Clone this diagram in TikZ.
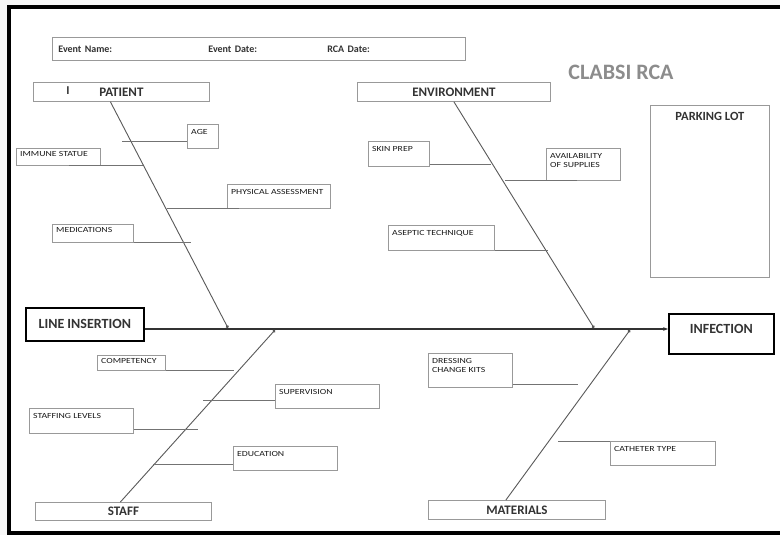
\documentclass[tikz,border=0pt]{standalone}
\usepackage{fontspec}
\setmainfont{Carlito}
\newfontfamily\causefont[FakeStretch=1.25]{Carlito}
\usetikzlibrary{arrows.meta}

\begin{document}
\begin{tikzpicture}[
        x=1pt, y=-1pt,
        every node/.style={text=black!80},
        hdrbox/.style={draw=gray!80, line width=0.8pt, anchor=north west},
        catbox/.style={draw=gray!80, line width=0.8pt, anchor=north west, inner sep=0pt, font=\bfseries\fontsize{13}{14}\selectfont},
        cbox/.style={draw=gray!80, line width=0.8pt, anchor=north west, inner sep=0pt},
        ctext/.style={anchor=north west, inner xsep=4pt, inner ysep=5pt, align=left, text=black!90, font=\causefont\fontsize{7.8}{9}\selectfont},
        mainbox/.style={draw=black, line width=1.6pt, anchor=north west, inner sep=0pt, font=\bfseries\fontsize{14}{15}\selectfont},
        bone/.style={draw=black!65, line width=0.9pt, -{Circle[length=3pt]}},
        twig/.style={draw=black!55, line width=0.7pt},
        spine/.style={draw=black!80, line width=2.4pt, -{Stealth[length=5pt]}}
    ]

    % frame
    \fill[gray!6] (0,0) rectangle (780,535);
    \useasboundingbox (0,0) rectangle (780,535);
    \clip (0,0) rectangle (780,535);
    \draw[line width=4pt, fill=white] (9,7) rectangle (800,533);

    % header and title
    \node[hdrbox, text width=401pt, inner xsep=6pt, minimum height=23pt, align=left, font=\bfseries\fontsize{10}{11}\selectfont] (header) at (52,37) {\makebox[150pt][l]{Event Name:}\makebox[119pt][l]{Event Date:}RCA Date:};
    \node[font=\bfseries\fontsize{22}{24}\selectfont, text=gray!90] (title) at (621,72) {CLABSI RCA};

    % categories
    \node[catbox, minimum width=176pt, minimum height=19pt] (patient) at (33,82) {PATIENT};
    \node[font=\bfseries\fontsize{12}{12}\selectfont] (cursor) at (68,91) {I};
    \node[catbox, minimum width=193pt, minimum height=19pt] (environment) at (357,82) {ENVIRONMENT};
    \node[catbox, minimum width=176pt, minimum height=18pt] (staff) at (35,502) {STAFF};
    \node[catbox, minimum width=177pt, minimum height=19pt] (materials) at (428,500) {MATERIALS};

    % head and tail
    \node[mainbox, minimum width=118pt, minimum height=33pt] (insertion) at (25,307) {LINE INSERTION};
    \node[mainbox, minimum width=105pt, inner ysep=5pt, text height=15pt, text depth=15pt] (infection) at (668,313) {INFECTION};
    \node[cbox, minimum width=119pt, minimum height=172pt, label={[anchor=north, inner sep=0pt, yshift=-7pt, font=\bfseries\fontsize{12.5}{13}\selectfont]north:PARKING LOT}] (parking) at (650,105) {};

    % causes
    \node[cbox, minimum width=31pt, minimum height=24pt, label={[ctext]north west:AGE}] (age) at (187,124) {};
    \node[cbox, minimum width=84pt, minimum height=17pt, label={[ctext, inner ysep=3pt]north west:IMMUNE STATUE}] (immune) at (16,148) {};
    \node[cbox, minimum width=103pt, minimum height=24pt, label={[ctext]north west:PHYSICAL ASSESSMENT}] (physical) at (227,184) {};
    \node[cbox, minimum width=81pt, minimum height=18pt, label={[ctext, inner ysep=3pt]north west:MEDICATIONS}] (medications) at (52,224) {};
    \node[cbox, minimum width=61pt, minimum height=25pt, label={[ctext]north west:SKIN PREP}] (skin) at (368,141) {};
    \node[cbox, minimum width=74pt, minimum height=32pt, label={[ctext]north west:AVAILABILITY\\OF SUPPLIES}] (avail) at (546,148) {};
    \node[cbox, minimum width=106pt, minimum height=25pt, label={[ctext]north west:ASEPTIC TECHNIQUE}] (aseptic) at (388,225) {};
    \node[cbox, minimum width=68pt, minimum height=15pt, label={[ctext, inner ysep=3pt]north west:COMPETENCY}] (competency) at (97,355) {};
    \node[cbox, minimum width=104pt, minimum height=24pt, label={[ctext]north west:SUPERVISION}] (supervision) at (275,384) {};
    \node[cbox, minimum width=104pt, minimum height=25pt, label={[ctext]north west:STAFFING LEVELS}] (staffing) at (29,408) {};
    \node[cbox, minimum width=104pt, minimum height=24pt, label={[ctext]north west:EDUCATION}] (education) at (233,446) {};
    \node[cbox, minimum width=84pt, minimum height=34pt, label={[ctext]north west:DRESSING\\CHANGE KITS}] (dressing) at (428,353) {};
    \node[cbox, minimum width=105pt, minimum height=24pt, label={[ctext]north west:CATHETER TYPE}] (catheter) at (610,441) {};

    % spine and bones
    \coordinate (patHead) at (228,328);
    \coordinate (envHead) at (594,328);
    \coordinate (staffHead) at (275,330);
    \coordinate (matHead) at (630,330);
    \draw[spine] (insertion.east |- 0,329) -- (infection.west |- 0,329);
    \draw[bone] ([xshift=-11pt]patient.south) -- (patHead);
    \draw[bone] (environment.south) -- (envHead);
    \draw[bone] ([xshift=-3pt]staff.north) -- (staffHead);
    \draw[bone] ([xshift=-11pt]materials.north) -- (matHead);

    % twigs
    \draw[twig] (age.west |- 0,141) -- ++(-65,0);
    \draw[twig] ([xshift=-32pt]immune.south east) -- ++(74,0);
    \draw[twig] ([xshift=12pt]physical.south west) -- ++(-72,0);
    \draw[twig] (medications.south east) -- ++(57,0);
    \draw[twig] ([yshift=2pt]skin.south east) -- ++(61,0);
    \draw[twig] ([xshift=31pt]avail.south west) -- ++(-72,0);
    \draw[twig] (aseptic.south east) -- ++(53,0);
    \draw[twig] (competency.south east) -- ++(68,0);
    \draw[twig] ([yshift=8pt]supervision.south west) -- ++(-72,0);
    \draw[twig] ([yshift=4pt]staffing.south east) -- ++(64,0);
    \draw[twig] ([yshift=6pt]education.south west) -- ++(-80,0);
    \draw[twig] ([yshift=3pt]dressing.south east) -- ++(65,0);
    \draw[twig] (catheter.north west) -- ++(-52,0);

\end{tikzpicture}
\end{document}
